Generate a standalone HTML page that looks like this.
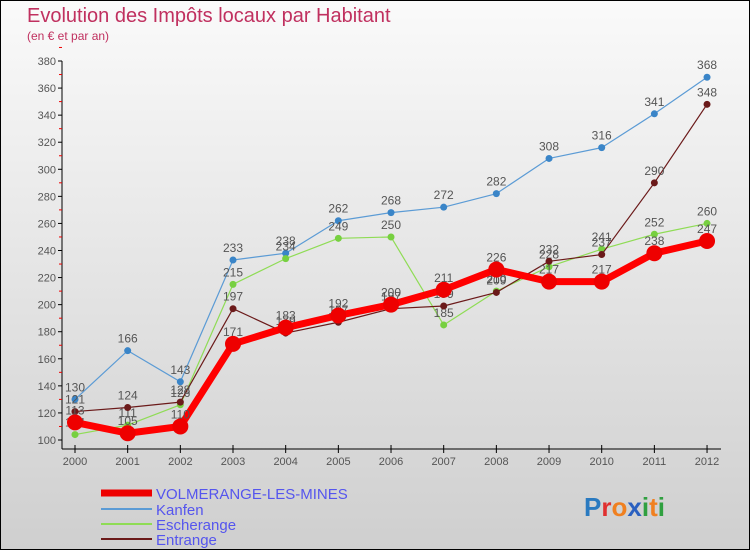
<!DOCTYPE html>
<html><head><meta charset="utf-8"><style>
body{margin:0}
#wrap{position:relative;width:748px;height:548px;border:1px solid #000;background:linear-gradient(#fafafa,#cfcfcf);font-family:"Liberation Sans",sans-serif;overflow:hidden}
.t{position:absolute;color:#c0305f}
</style></head><body>
<div id="wrap">
<div class="t" style="left:26px;top:4px;font-size:20px">Evolution des Impôts locaux par Habitant</div>
<div class="t" style="left:26px;top:28px;font-size:12px">(en € et par an)</div>
<svg id="svg" width="748" height="548" style="position:absolute;left:0;top:0"></svg>
</div>
<script>
const years=["2000","2001","2002","2003","2004","2005","2006","2007","2008","2009","2010","2011","2012"];
const volmerange=[113,105,110,171,183,192,200,211,226,217,217,238,247];
const kanfen=[130,166,143,233,238,262,268,272,282,308,316,341,368];
const escherange=[104,111,126,215,234,249,250,185,210,228,241,252,260];
const entrange=[121,124,128,197,179,187,197,199,209,232,237,290,348];
const yTicks=[100,120,140,160,180,200,220,240,260,280,300,320,340,360,380];
const seriesNames=["VOLMERANGE-LES-MINES","Kanfen","Escherange","Entrange"];
const NS="http://www.w3.org/2000/svg";
const svg=document.getElementById('svg');
function x(i){return 74+i*52.67;}
function y(v){return 439-(v-100)*(379/280);}
function mk(t,a,p){const e=document.createElementNS(NS,t);for(const k in a)e.setAttribute(k,a[k]);(p||svg).appendChild(e);return e;}
const ya=mk('line',{x1:61,y1:60,x2:61,y2:448,stroke:'#000'});


const xa=mk('line',{x1:61,y1:448,x2:720,y2:448,stroke:'#000'});


yTicks.forEach(v=>{
 mk('line',{x1:57,y1:y(v),x2:61,y2:y(v),stroke:'#000'});
 mk('line',{x1:58,y1:y(v+10),x2:61,y2:y(v+10),stroke:'#e00'});
 const t=mk('text',{x:55,y:y(v)+4,'text-anchor':'end','font-size':11,fill:'#555'});
 t.textContent=v;
 
 
});
years.forEach((yr,i)=>{
 mk('line',{x1:x(i),y1:444,x2:x(i),y2:452,stroke:'#000'});
 const t=mk('text',{x:x(i),y:464,'text-anchor':'middle','font-size':11,fill:'#555'});
 t.textContent=yr;
 
 
});
const data=[volmerange,kanfen,escherange,entrange];
const cols=['#ff0000','#5b9bd5','#8fdc55','#6b1a1a'];
const dots=['#ee0000','#3a85c8','#77d040','#6b1a1a'];
const widths=[7,1.2,1.2,1.2];
const rads=[8,3.5,3.5,3.5];
[1,2,3,0].forEach(s=>{
 const d=data[s];
 const pl=mk('polyline',{points:d.map((v,i)=>x(i)+','+y(v)).join(' '),fill:'none',stroke:cols[s],'stroke-width':widths[s],'stroke-linejoin':'round'});
 
 
 d.forEach((v,i)=>{
  const c=mk('circle',{cx:x(i),cy:y(v),r:rads[s],fill:dots[s]});
  
  
  const t=mk('text',{x:x(i),y:y(v)-8,'text-anchor':'middle','font-size':12,fill:'#555'});
  t.textContent=v;
  
  
 });
});
const ly=[492,508,523,538];
seriesNames.forEach((n,s)=>{
 const l=mk('line',{x1:100,y1:ly[s],x2:151,y2:ly[s],stroke:s==0?'#ee0000':cols[s],'stroke-width':s==0?7:2});
 
 
 const t=mk('text',{x:155,y:ly[s]+6,'font-size':15,fill:'#5555ee'});
 t.textContent=n;
 
 
});
const g=mk('text',{x:583,y:515,'font-size':26,'font-weight':'bold'});


[['P','#2a7ac0'],['r','#e03030'],['o','#f08020'],['x','#2a60c0'],['i','#30a040'],['t','#f08020'],['i','#30a040']].forEach(([c,f])=>{const sp=mk('tspan',{fill:f},g);sp.textContent=c;});
</script>
</body></html>
